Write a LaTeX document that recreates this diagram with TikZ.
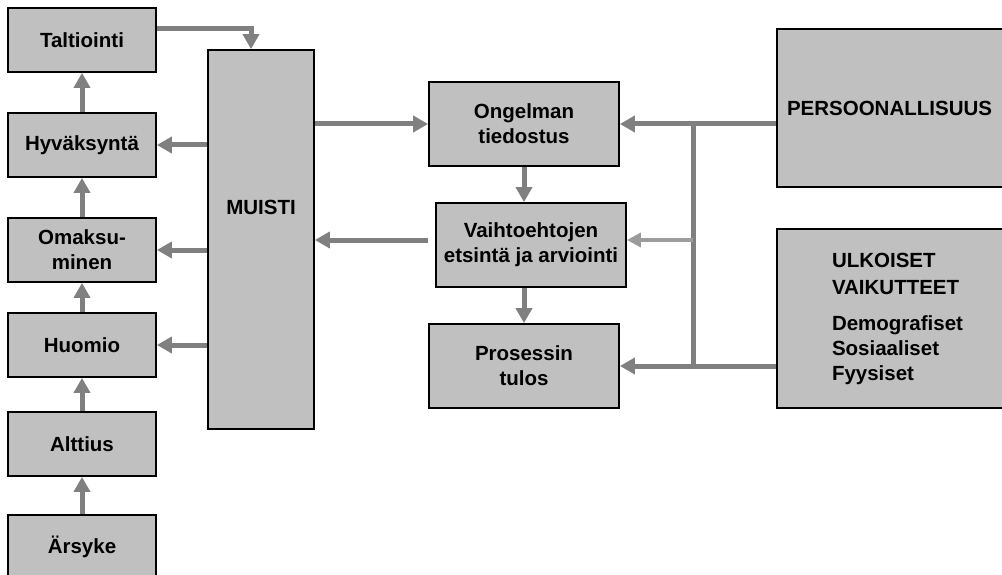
\documentclass[tikz,border=0pt]{standalone}
\usepackage{fontspec}
\setmainfont{Liberation Sans}
\usetikzlibrary{arrows.meta}
\definecolor{boxfill}{HTML}{C0C0C0}
\definecolor{arr}{HTML}{808080}
\definecolor{arrlight}{HTML}{9C9C9C}
\begin{document}
\begin{tikzpicture}[x=1pt,y=-1pt,
  box/.style={draw=black,line width=1.8pt,fill=boxfill,inner sep=0pt,align=center,
    font=\fontsize{20.5}{25}\selectfont\bfseries},
  lbox/.style={box,minimum width=148pt,minimum height=64pt},
  mbox/.style={box,minimum width=190pt,minimum height=84pt},
  conn/.style={draw=arr,line width=5pt},
  arrow/.style={conn,-{Triangle[length=15pt,width=16pt]}},
  lightarrow/.style={draw=arrlight,line width=4pt,-{Triangle[length=14pt,width=14pt]}}
]
\useasboundingbox (0,0) rectangle (1002,575);
\clip (0,0) rectangle (1002,575);

% left column
\node[lbox] (tal) at (82,40) {Taltiointi};
\node[lbox] (hyv) at (82,145) {Hyväksyntä};
\node[lbox] (oma) at (82,250) {Omaksu-\\minen};
\node[lbox] (huo) at (82,345) {Huomio};
\node[lbox] (alt) at (82,444) {Alttius};
\node[lbox] (ars) at (82,547) {Ärsyke};

% memory
\node[box,minimum width=106pt,minimum height=379pt,
  label={[font=\fontsize{20.5}{25}\selectfont\bfseries,yshift=32.5pt]center:MUISTI}] (mui) at (261,239.5) {};

% process
\node[mbox] (ong) at (524,124) {Ongelman\\tiedostus};
\node[mbox] (vai) at (531,245) {Vaihtoehtojen\\etsintä ja arviointi};
\node[mbox] (pro) at (524,366) {Prosessin\\tulos};

% right boxes
\node[box,minimum width=263pt,minimum height=158pt,inner xsep=10pt,
  text width=243pt,align=left] (pers) at (908.5,108) {PERSOONALLISUUS};
\node[box,minimum width=263pt,minimum height=179pt,inner xsep=55pt,
  text width=153pt,align=left] (ulk) at (908.5,318.5)
  {\baselineskip=27pt ULKOISET\\VAIKUTTEET\\[11pt]\baselineskip=25pt Demografiset\\Sosiaaliset\\Fyysiset};

% connectors left column
\draw[arrow] (ars.north) -- (alt.south);
\draw[arrow] (alt.north) -- (huo.south);
\draw[arrow] (huo.north) -- (oma.south);
\draw[arrow] (oma.north) -- (hyv.south);
\draw[arrow] (hyv.north) -- (tal.south);
\draw[arrow] ([yshift=11pt]tal.east) -| ([xshift=-10pt]mui.north);

\draw[arrow] (mui.west |- hyv) -- (hyv.east);
\draw[arrow] (mui.west |- oma) -- (oma.east);
\draw[arrow] (mui.west |- huo) -- (huo.east);

% memory <-> process
\draw[arrow] (mui.east |- ong) -- (ong.west);
\coordinate (vo) at ([shift={(-7pt,5pt)}]vai.west);
\draw[arrow] (vo) -- (mui.east |- vo);
\draw[arrow] (ong.south) -- (ong.south |- vai.north);
\draw[arrow] (pro.north |- vai.south) -- (pro.north);

% bus
\coordinate (bus) at (693,0);
\draw[conn] (bus |- ong) -- (bus |- pro);
\draw[arrow] (pers.west |- ong) -- (ong.east);
\draw[arrow] (ulk.west |- pro) -- (pro.east);
\draw[lightarrow] (bus |- vo) -- (vai.east |- vo);
\end{tikzpicture}
\end{document}
